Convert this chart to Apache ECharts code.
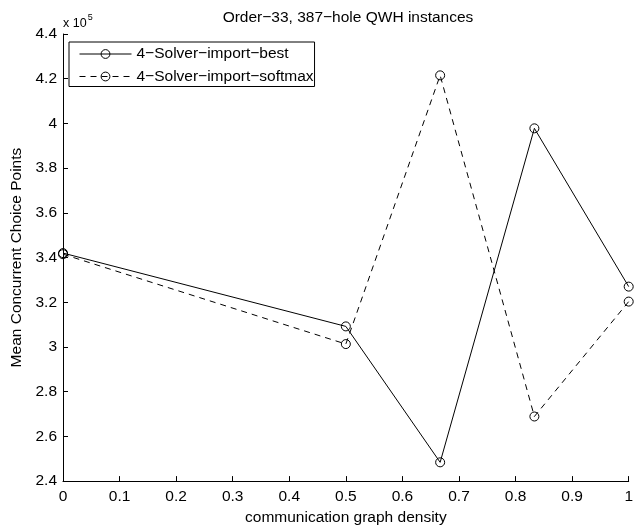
<!DOCTYPE html>
<html>
<head>
<meta charset="utf-8">
<script src="https://cdn.jsdelivr.net/npm/echarts@6/dist/echarts.min.js"></script>
<style>
html,body{margin:0;padding:0;background:#fff;}
#c{width:636px;height:531px;}
</style>
</head>
<body>
<div id="c"></div>
<script>
var densities = [0, 0.5, 0.6667, 0.8333, 1];
var bestValues = [342000, 309200, 248400, 397800, 327000];
var softmaxValues = [341500, 301300, 421500, 268900, 320300];
var seriesNames = ['4\u2212Solver\u2212import\u2212best', '4\u2212Solver\u2212import\u2212softmax'];
var titleText = 'Order\u221233, 387\u2212hole QWH instances';
var xLabel = 'communication graph density';
var yLabel = 'Mean Concurrent Choice Points';

function pairs(xs, ys){ return xs.map(function(x,i){ return [x, ys[i]]; }); }
function fmt(v){ return String(+v.toFixed(1)); }

var FONT = 'Liberation Sans, Arial, Helvetica, sans-serif';
var FS = 15.5;
var HOLLOW = 'rgba(0,0,0,0)';
var chart = echarts.init(document.getElementById('c'), null, {renderer:'canvas'});
chart.setOption({
  animation: false,
  backgroundColor: '#fff',
  textStyle: {fontFamily: FONT, color: '#000'},
  title: {
    text: titleText, left: 348, top: 10, textAlign: 'center', padding: 0,
    textStyle: {fontSize: FS, fontWeight: 'normal', color: '#000', fontFamily: FONT}
  },
  grid: {left: 63, right: 3, top: 34, bottom: 47, containLabel: false},
  legend: {
    orient: 'vertical', left: 69, top: 42,
    padding: [4, 1, 2, 10], itemGap: 6.5, itemWidth: 52, itemHeight: 11,
    backgroundColor: '#fff', borderColor: '#000', borderWidth: 1,
    textStyle: {fontSize: FS, color: '#000', fontFamily: FONT},
    lineStyle: {width: 1, color: '#000'},
    itemStyle: {color: HOLLOW, borderColor: '#000', borderWidth: 1},
    data: seriesNames
  },
  xAxis: {
    type: 'value', min: 0, max: 1, interval: 0.1,
    name: xLabel, nameLocation: 'middle', nameGap: 25,
    nameTextStyle: {fontSize: FS, color: '#000', fontFamily: FONT},
    axisLine: {onZero: false, lineStyle: {color: '#000', width: 1}},
    axisTick: {inside: true, length: 5, lineStyle: {color: '#000'}},
    axisLabel: {fontSize: FS, color: '#000', margin: 8, formatter: fmt, fontFamily: FONT},
    splitLine: {show: false}
  },
  yAxis: {
    type: 'value', min: 240000, max: 440000, interval: 20000,
    name: yLabel, nameLocation: 'middle', nameGap: 35,
    nameTextStyle: {fontSize: FS, color: '#000', fontFamily: FONT},
    axisLine: {show: true, onZero: false, lineStyle: {color: '#000', width: 1}},
    axisTick: {show: true, inside: true, length: 5, lineStyle: {color: '#000'}},
    axisLabel: {fontSize: FS, color: '#000', margin: 6, fontFamily: FONT,
      formatter: function(v){ return fmt(v/1e5); }},
    splitLine: {show: false}
  },
  graphic: [{
    type: 'text', left: 63, top: 13,
    style: {
      text: '{a|x 10}{b|5}', fontFamily: FONT, fill: '#000',
      rich: {
        a: {fontSize: 12.5, fontFamily: FONT, color: '#000', verticalAlign: 'bottom', lineHeight: 16},
        b: {fontSize: 9, fontFamily: FONT, color: '#000', verticalAlign: 'top', padding: [0,0,8,1]}
      }
    }
  }],
  series: [{
    name: seriesNames[0], type: 'line', data: pairs(densities, bestValues),
    symbol: 'circle', symbolSize: 9,
    lineStyle: {color: '#000', width: 1, type: 'solid'},
    itemStyle: {color: HOLLOW, borderColor: '#000', borderWidth: 1}
  }, {
    name: seriesNames[1], type: 'line', data: pairs(densities, softmaxValues),
    symbol: 'circle', symbolSize: 9,
    lineStyle: {color: '#000', width: 1, type: [6, 5]},
    itemStyle: {color: HOLLOW, borderColor: '#000', borderWidth: 1}
  }]
});
</script>
</body>
</html>
